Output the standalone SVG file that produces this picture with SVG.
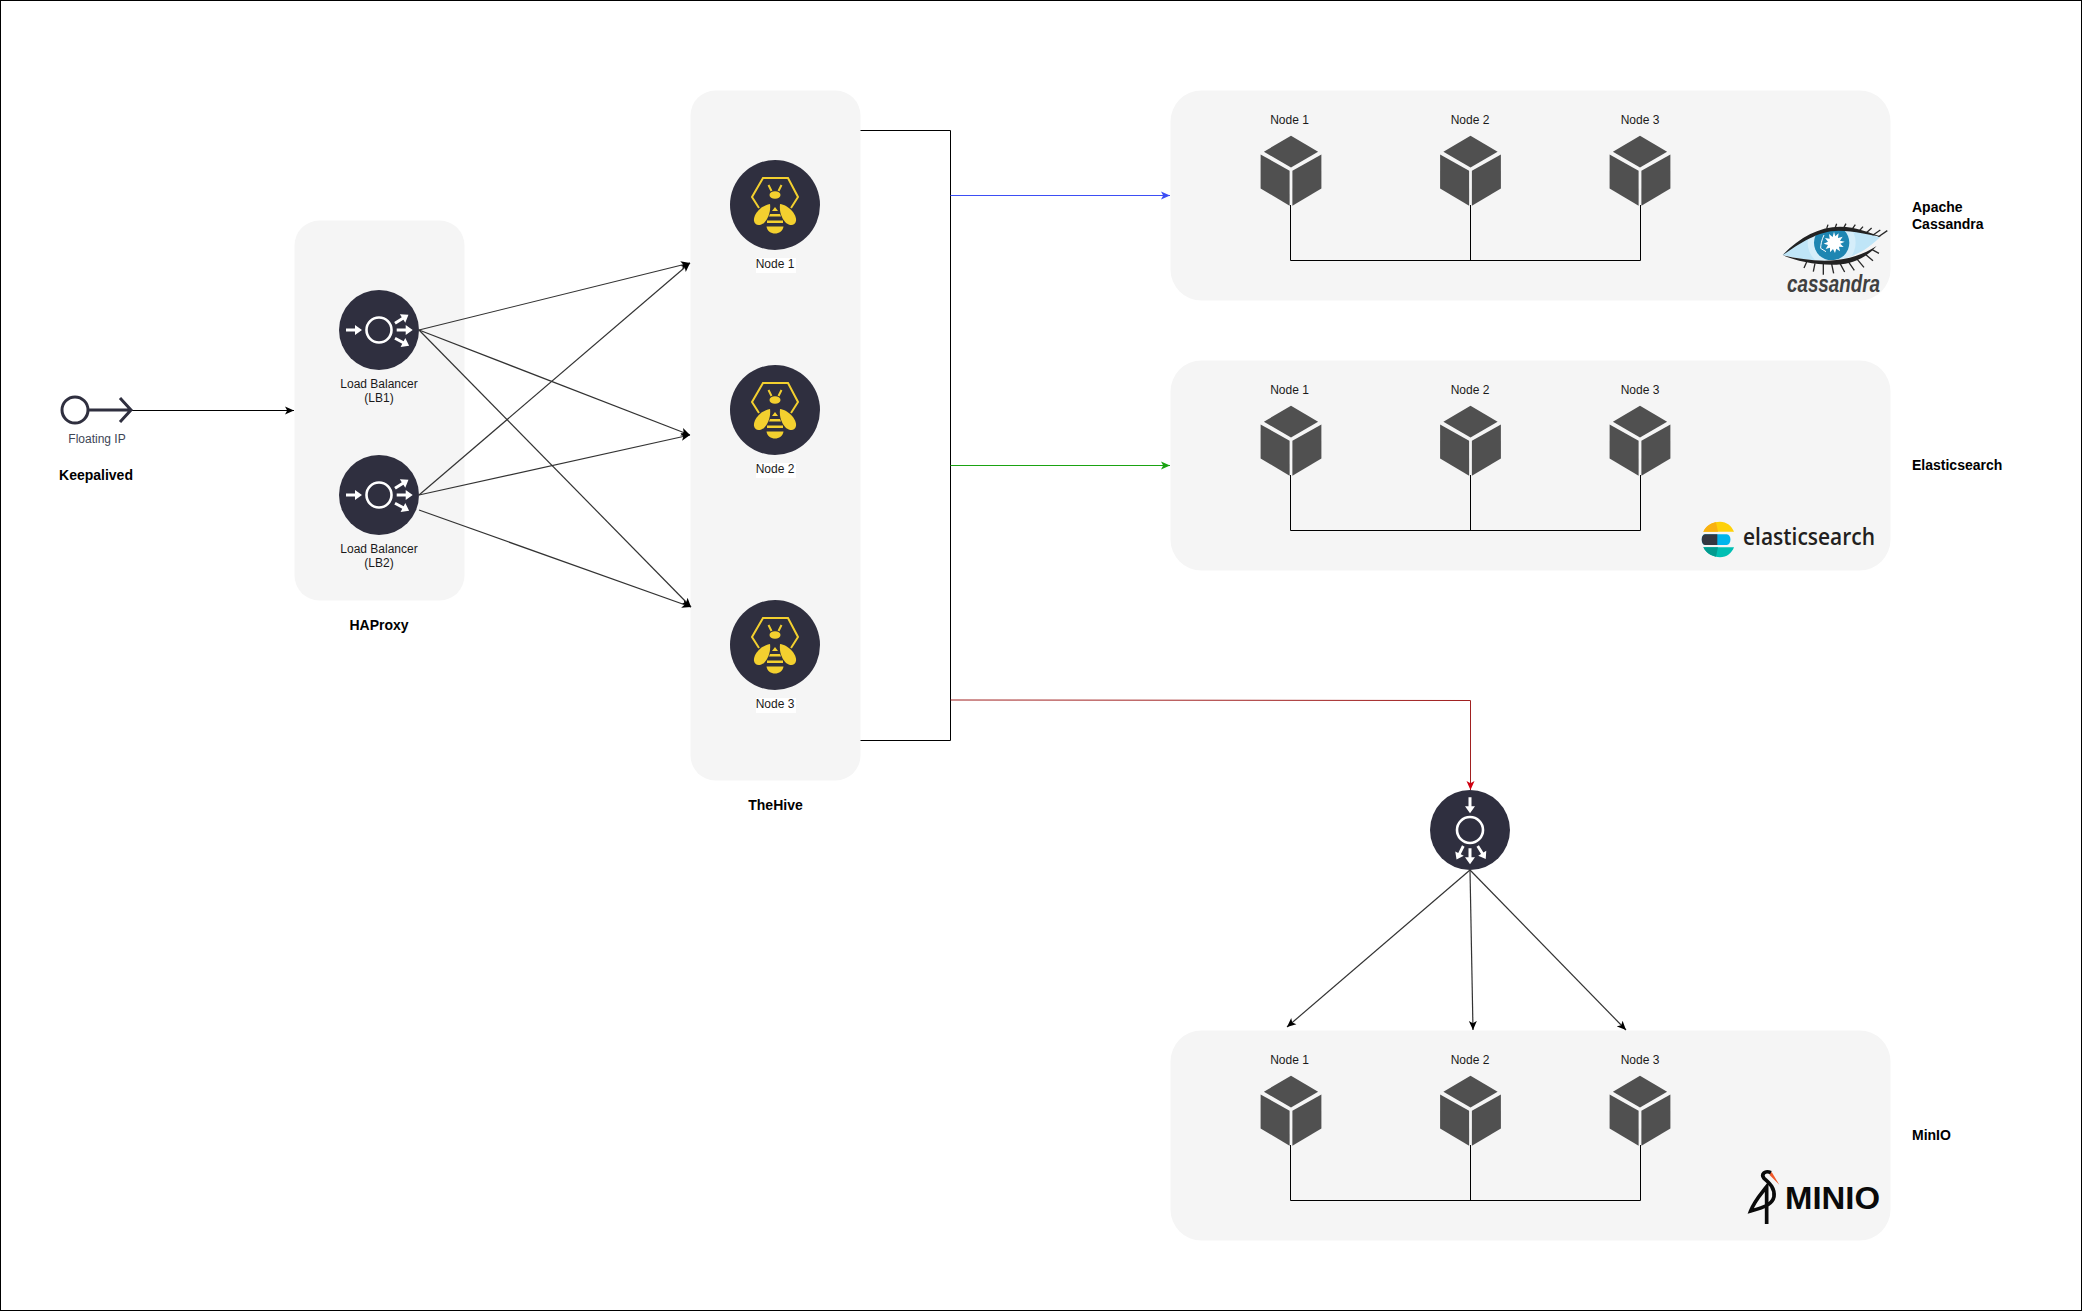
<svg xmlns="http://www.w3.org/2000/svg" width="2082" height="1311" viewBox="0 0 2082 1311">
<style>
text{font-family:"Liberation Sans",Arial,sans-serif;font-size:12px;fill:#1a1a1a}
.m{text-anchor:middle}
.b{font-weight:bold;font-size:14px;fill:#000}
.panel{fill:#f5f5f5}
.dark{fill:#2f2f3f}
.w{fill:none;stroke:#fff;stroke-width:2.6}
.wf{fill:#fff}
.y{fill:#f3d02f}
.c{fill:#505050}
.l{fill:none;stroke:#333;stroke-width:1.2}
.k{fill:none;stroke:#000;stroke-width:1}
</style>
<defs>
<marker id="ak" markerUnits="userSpaceOnUse" markerWidth="12" markerHeight="10" refX="9" refY="5" orient="auto"><path d="M0,1 L9,5 L0,9 L2.2,5Z" fill="#000"/></marker>
<marker id="ab" markerUnits="userSpaceOnUse" markerWidth="12" markerHeight="10" refX="9" refY="5" orient="auto"><path d="M0,1 L9,5 L0,9 L2.2,5Z" fill="#3d4ef5"/></marker>
<marker id="ag" markerUnits="userSpaceOnUse" markerWidth="12" markerHeight="10" refX="9" refY="5" orient="auto"><path d="M0,1 L9,5 L0,9 L2.2,5Z" fill="#1aa312"/></marker>
<marker id="ar" markerUnits="userSpaceOnUse" markerWidth="12" markerHeight="10" refX="9" refY="5" orient="auto"><path d="M0,1 L9,5 L0,9 L2.2,5Z" fill="#d00010"/></marker>
<path id="arw" class="wf" d="M0,-1.500 H9 V-5 L16,0 L9,5 V1.500 H0Z"/>
<clipPath id="eyeclip"><path d="M308,225 C360,170 420,145 480,147 C530,148 570,165 600,172 C570,200 530,235 460,240 C400,245 350,235 308,225Z"/></clipPath>
<g id="cube">
<path class="c" d="M0,-35 L27.100,-19 L0,-3.300 L-27.100,-19Z"/>
<path class="c" d="M-30.400,-16.300 L-1.400,0 L-1.400,35 L-30.400,17.700Z"/>
<path class="c" d="M30.400,-16.300 L1.400,0 L1.400,35 L30.400,17.700Z"/>
</g>
<g id="bee">
<circle class="dark" r="45"/>
<path fill="none" stroke="#f3d02f" stroke-width="2" d="M-16,3 L-23,-8 L-12,-27 L13,-27 L23,-8 L16,3"/>
<ellipse class="y" cx="0" cy="-10" rx="5.500" ry="3.800"/>
<path fill="none" stroke="#f3d02f" stroke-width="2" d="M-6.500,-20 L-3.500,-14 M6.500,-20 L3.500,-14"/>
<path class="y" d="M-5,-1 C-13,0 -22,9 -21,16 C-20,21 -15,21 -11,18 C-7,14 -4,7 -5,-1Z"/>
<path class="y" d="M5,-1 C13,0 22,9 21,16 C20,21 15,21 11,18 C7,14 4,7 5,-1Z"/>
<path class="y" d="M0,2 L-3,6 L3,6Z M-5,9 L5,9 L6,11.500 L-6,11.500Z M-8,15.500 L8,15.500 L8,18 L-8,18Z M-8.500,21.500 L8.500,21.500 C8,26 4,28.500 0,28.500 C-4,28.500 -8,26 -8.500,21.500Z"/>
</g>
<g id="lb">
<circle class="dark" r="40"/>
<circle class="w" r="12.500"/>
<use href="#arw" x="-33" y="0"/>
<use href="#arw" x="17.700" y="0"/>
<use href="#arw" transform="translate(16,-6.700) rotate(-32.700)"/>
<use href="#arw" transform="translate(16,8.300) rotate(28)"/>
</g>
</defs>
<rect width="2082" height="1311" fill="#fff"/>
<rect x="0.500" y="0.500" width="2081" height="1310" fill="none" stroke="#000"/>

<g id="panels">
<rect class="panel" x="294.500" y="220.500" width="170" height="380" rx="25"/>
<rect class="panel" x="690.500" y="90.500" width="170" height="690" rx="25"/>
<rect class="panel" x="1170.500" y="90.500" width="720" height="210" rx="31"/>
<rect class="panel" x="1170.500" y="360.500" width="720" height="210" rx="31"/>
<rect class="panel" x="1170.500" y="1030.500" width="720" height="210" rx="31"/>
</g>

<g id="connectors">
<path class="k" d="M132,410.500 H294" marker-end="url(#ak)"/>
<path class="l" d="M419,330 L690,263" marker-end="url(#ak)"/>
<path class="l" d="M419,330 L690,435" marker-end="url(#ak)"/>
<path class="l" d="M419,330 L691,607" marker-end="url(#ak)"/>
<path class="l" d="M419,495 L690,263" marker-end="url(#ak)"/>
<path class="l" d="M419,495 L690,435" marker-end="url(#ak)"/>
<path class="l" d="M419,510 L691,607" marker-end="url(#ak)"/>
<path class="k" d="M860.500,130.500 H950.500 V740.500 H860.500"/>
<path fill="none" stroke="#3d4ef5" d="M950.500,195.500 H1170" marker-end="url(#ab)"/>
<path fill="none" stroke="#1aa312" d="M950.500,465.500 H1170" marker-end="url(#ag)"/>
<path fill="none" stroke="#a02020" d="M950.500,700 L1470.500,700.500 V790" marker-end="url(#ar)"/>
<path class="l" d="M1470,870 L1287,1027" marker-end="url(#ak)"/>
<path class="l" d="M1470,870 L1473,1030" marker-end="url(#ak)"/>
<path class="l" d="M1470,870 L1626,1030" marker-end="url(#ak)"/>
<path class="k" d="M1290.500,205 V260.500 H1640.500 V205 M1470.500,205 V260.500"/>
<path class="k" d="M1290.500,475 V530.500 H1640.500 V475 M1470.500,475 V530.500"/>
<path class="k" d="M1290.500,1145 V1200.500 H1640.500 V1145 M1470.500,1145 V1200.500"/>
</g>

<g id="floating-ip">
<circle cx="75" cy="410" r="13" fill="none" stroke="#2f2f3f" stroke-width="3"/>
<path fill="none" stroke="#2f2f3f" stroke-width="3" d="M88,410 H131 M120,398 L131,410 L120,422"/>
<text class="m" x="97" y="443" style="fill:#3d4656">Floating IP</text>
<text class="m b" x="96" y="480">Keepalived</text>
</g>

<g id="haproxy">
<use href="#lb" x="379" y="330"/>
<text class="m" x="379" y="388">Load Balancer</text><text class="m" x="379" y="402">(LB1)</text>
<use href="#lb" x="379" y="495"/>
<text class="m" x="379" y="553">Load Balancer</text><text class="m" x="379" y="567">(LB2)</text>
<text class="m b" x="379" y="630">HAProxy</text>
</g>

<g id="thehive">
<use href="#bee" x="775" y="205"/>
<rect x="756" y="258" width="40" height="15" fill="#fff"/><text class="m" x="775" y="268">Node 1</text>
<use href="#bee" x="775" y="410"/>
<rect x="756" y="463" width="40" height="15" fill="#fff"/><text class="m" x="775" y="473">Node 2</text>
<use href="#bee" x="775" y="645"/>
<rect x="756" y="698" width="40" height="15" fill="#fff"/><text class="m" x="775" y="708">Node 3</text>
<text class="m b" x="775.500" y="810">TheHive</text>
</g>

<g id="cassandra">
<use href="#cube" x="1291" y="170.700"/><use href="#cube" x="1470.500" y="170.700"/><use href="#cube" x="1640" y="170.700"/>
<text class="m" x="1289.500" y="124">Node 1</text><text class="m" x="1470" y="124">Node 2</text><text class="m" x="1640" y="124">Node 3</text>
<g transform="translate(1680,180) scale(.3333)">
<path fill="none" stroke="#2a2a2a" stroke-width="4" d="M440,146 l4,-12 M465,145 l5,-14 M490,146 l8,-15 M515,150 l11,-16 M535,156 l14,-16 M555,162 l20,-18 M575,168 l26,-18 M590,174 l32,-22 M380,246 l-8,18 M405,250 l-5,25 M430,252 l0,32 M455,252 l6,28 M480,250 l14,26 M505,245 l18,26 M530,236 l22,26 M555,222 l24,20 M575,208 l22,12"/>
<path d="M308,225 C360,170 420,145 480,147 C530,148 570,165 600,172 C570,200 530,235 460,240 C400,245 350,235 308,225Z" fill="#bfe5f7"/>
<g clip-path="url(#eyeclip)">
<circle cx="455" cy="188" r="72" fill="#d5eefa"/>
<circle cx="455" cy="188" r="53" fill="#1e86b2"/>
<path d="M462,155 l4,14 10,-9 -2,14 14,-4 -8,12 14,3 -13,6 10,10 -14,-1 3,14 -11,-8 -4,13 -6,-12 -9,10 0,-14 -13,4 7,-12 -13,-4 13,-6 -9,-11 14,2 -2,-14 11,9Z" fill="#fff"/>
<path fill="none" stroke="#fff" stroke-width="3" d="M432,165 C425,180 422,195 422,205 L438,215"/>
</g>
<path d="M308,225 C360,170 420,140 480,140 C530,140 570,160 605,170 C570,166 525,152 475,152 C415,152 360,190 308,225Z" fill="#222"/>
<path d="M308,226 C360,238 420,246 470,240 C520,234 555,220 590,198 C560,232 520,252 470,254 C410,256 350,244 308,226Z" fill="#222"/>
</g>
<text x="1787" y="292" textLength="93" lengthAdjust="spacingAndGlyphs" style="font-size:23px;font-style:italic;font-weight:bold;fill:#404040">cassandra</text>
<text class="b" x="1912" y="212">Apache</text><text class="b" x="1912" y="229">Cassandra</text>
</g>

<g id="elasticsearch">
<use href="#cube" x="1291" y="440.700"/><use href="#cube" x="1470.500" y="440.700"/><use href="#cube" x="1640" y="440.700"/>
<text class="m" x="1289.500" y="394">Node 1</text><text class="m" x="1470" y="394">Node 2</text><text class="m" x="1640" y="394">Node 3</text>
<g transform="translate(1680,500) scale(.3333)">
<path d="M70,95 C80,75 100,65 120,65 C140,65 155,78 162,95Z" fill="#fed10a"/>
<path d="M70,95 C78,78 90,70 108,67 L114,95Z" fill="#f9b110"/>
<path d="M75,103 H140 C155,103 155,135 140,135 H75 C62,135 62,103 75,103Z" fill="#00b5ec"/>
<path d="M75,103 H112 V135 H75 C62,135 62,103 75,103Z" fill="#343741"/>
<path d="M70,142 H162 C155,160 140,172 120,172 C100,172 80,162 70,142Z" fill="#00bfb3"/>
<path d="M70,142 H114 L108,170 C90,166 78,158 70,142Z" fill="#019b8f"/>
</g>
<text x="1743" y="545" textLength="132" lengthAdjust="spacingAndGlyphs" style="font-family:'Open Sans','Liberation Sans',sans-serif;font-size:24px;font-weight:600;fill:#231f20">elasticsearch</text>
<text class="b" x="1912" y="470">Elasticsearch</text>
</g>

<g id="minio-storage">
<use href="#cube" x="1291" y="1110.700"/><use href="#cube" x="1470.500" y="1110.700"/><use href="#cube" x="1640" y="1110.700"/>
<text class="m" x="1289.500" y="1064">Node 1</text><text class="m" x="1470" y="1064">Node 2</text><text class="m" x="1640" y="1064">Node 3</text>
<g transform="translate(1720,1150) scale(.3333)">
<path d="M155,66 L178,104 L148,74Z" fill="#f0592a"/>
<path fill="none" stroke="#0a0a0a" stroke-width="11" d="M153,68 C135,60 122,72 132,85 C150,100 165,115 162,140 C158,160 140,170 92,183 C105,150 125,130 140,110 L140,222"/>
</g>
<text x="1785" y="1209" textLength="95" lengthAdjust="spacingAndGlyphs" style="font-size:31px;font-weight:bold;fill:#0a0a0a">MINIO</text>
<text class="b" x="1912" y="1140">MinIO</text>
</g>

<g id="minio-balancer">
<circle class="dark" cx="1470" cy="830" r="40"/>
<circle class="w" cx="1470" cy="830" r="13"/>
<g transform="translate(1470,830)">
<use href="#arw" transform="translate(0,-32.700) rotate(90)"/>
<use href="#arw" transform="translate(0,18.300) rotate(90)"/>
<use href="#arw" transform="translate(-6.700,16) rotate(116.400) scale(.95)"/>
<use href="#arw" transform="translate(7.700,16) rotate(58) scale(.95)"/>
</g>
</g>
</svg>
